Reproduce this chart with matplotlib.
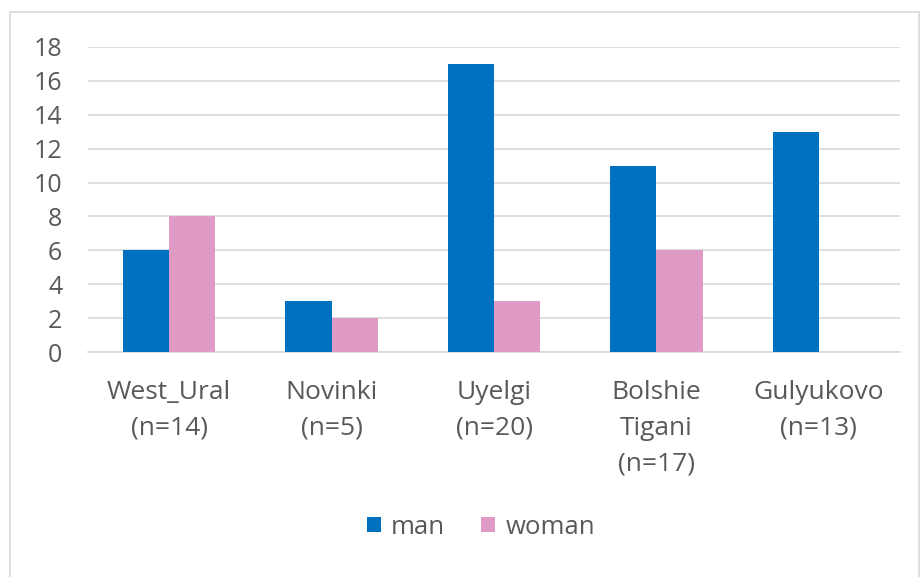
import matplotlib.pyplot as plt
import numpy as np
from matplotlib.patches import Rectangle

plt.rcParams.update({
    "font.family": ["Open Sans", "DejaVu Sans"],
    "font.size": 18,
})

categories = ["West_Ural\n(n=14)", "Novinki\n(n=5)", "Uyelgi\n(n=20)",
              "Bolshie\nTigani\n(n=17)", "Gulyukovo\n(n=13)"]
man = [6, 3, 17, 11, 13]
woman = [8, 2, 3, 6, 0]
yticks = [0, 2, 4, 6, 8, 10, 12, 14, 16, 18]

blue = "#0070C0"
pink = "#E09AC6"
text_grey = "#595959"

fig = plt.figure(figsize=(9.22, 5.77), dpi=100)

# chart border
fig.patches.append(Rectangle((10 / 922, -0.01), 909 / 922, (577 - 12) / 577 + 0.01,
                             transform=fig.transFigure, fill=False,
                             edgecolor="#D9D9D9", linewidth=1.2))

ax = fig.add_axes([88 / 922, 225 / 577, 812 / 922, 305 / 577])

x = np.arange(len(categories))
w = 0.285
ax.bar(x - w / 2, man, w, color=blue, label="man", zorder=3)
ax.bar(x + w / 2, woman, w, color=pink, label="woman", zorder=3)

ax.set_xlim(-0.5, len(categories) - 0.5)
ax.set_ylim(0, 18)
ax.set_yticks(yticks)
ax.yaxis.grid(True, color="#D9D9D9", linewidth=1.2, zorder=0)
ax.set_axisbelow(True)

for s in ["top", "right", "left"]:
    ax.spines[s].set_visible(False)
ax.spines["bottom"].set_color("#D9D9D9")
ax.spines["bottom"].set_linewidth(1.2)

ax.set_xticks(x)
ax.set_xticklabels(categories, linespacing=1.58, va="top")
ax.tick_params(axis="both", length=0, colors=text_grey)
ax.tick_params(axis="x", pad=20, labelsize=19)
ax.tick_params(axis="y", pad=18.5, labelsize=18)

leg = fig.legend(loc="center", bbox_to_anchor=(481 / 922, 1 - 527 / 577), ncol=2,
                 frameon=False, handlelength=0.55, handleheight=0.55,
                 handletextpad=0.4, columnspacing=1.4, fontsize=18.5)
for t in leg.get_texts():
    t.set_color(text_grey)

fig.savefig("out.png", dpi=100)
